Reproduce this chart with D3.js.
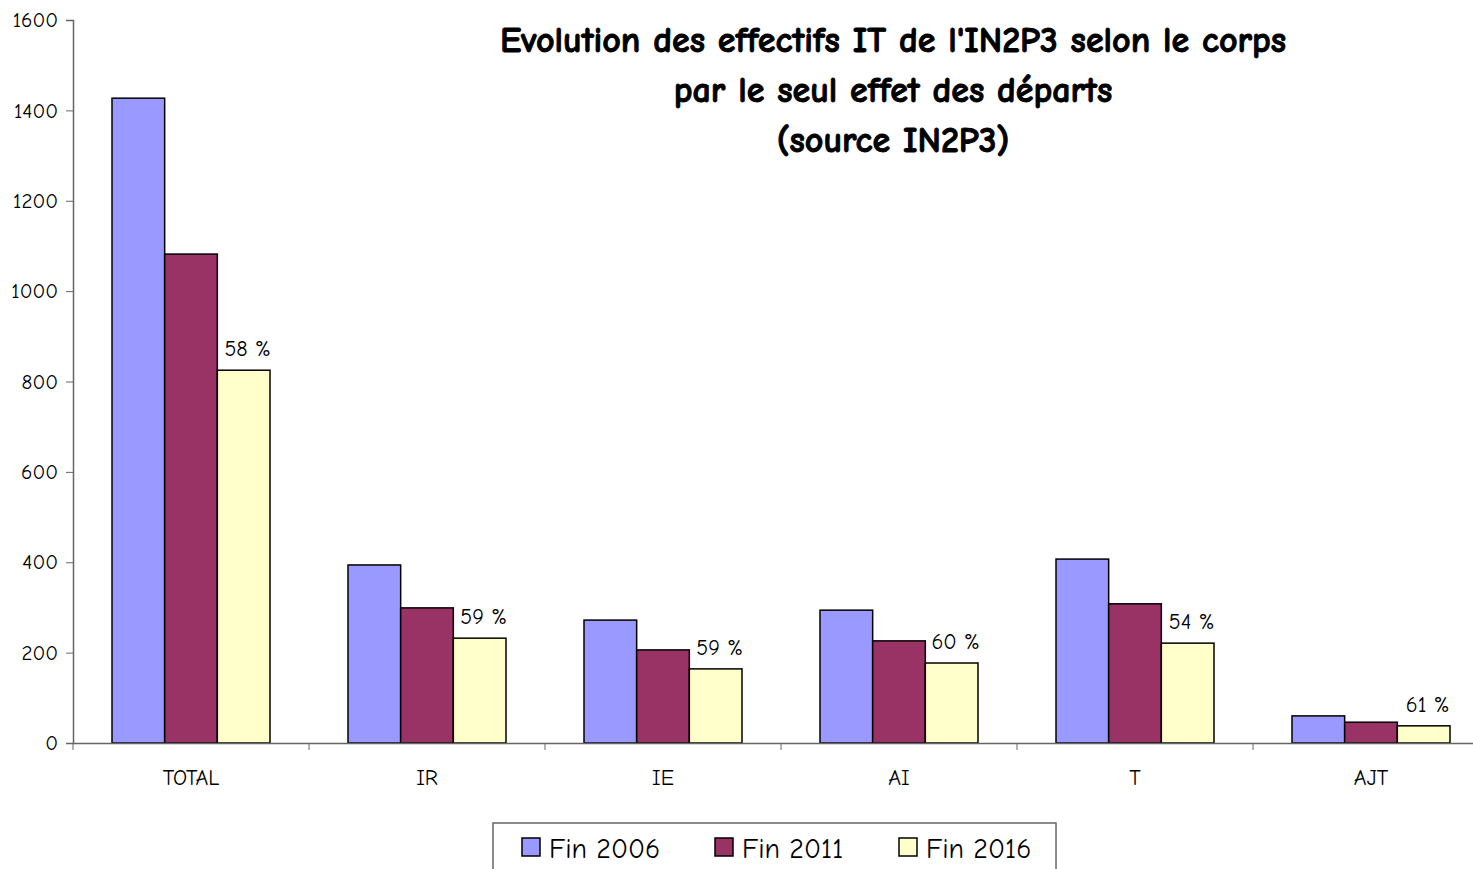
<!DOCTYPE html>
<html>
<head>
<meta charset="utf-8">
<script src="https://cdn.jsdelivr.net/npm/d3@7"></script>
<style>
  body { margin: 0; background: #fff; }
  svg text { font-family: "Comic Sans MS", "Comic Neue", "DejaVu Sans", sans-serif; fill: #000; }
</style>
</head>
<body>
<div id="chart"></div>
<script>
const categories = ['TOTAL', 'IR', 'IE', 'AI', 'T', 'AJT']
const seriesNames = ['Fin 2006', 'Fin 2011', 'Fin 2016']
const fin2006 = [1427, 394, 272, 294, 407, 60]
const fin2011 = [1082, 299, 206, 226, 308, 46]
const fin2016 = [825, 232, 164, 177, 221, 38]
const pctLabels = ['58 %', '59 %', '59 %', '60 %', '54 %', '61 %']
const yTicks = [0, 200, 400, 600, 800, 1000, 1200, 1400, 1600]
const colors = ['#9999ff', '#993366', '#ffffcc']

const W = 1473, H = 869
const svg = d3.select('#chart').append('svg')
  .attr('width', W).attr('height', H)

// plot area runs past the right edge, like the original
const x = d3.scaleBand().domain(categories).range([73, 73 + 6 * 236])
const inner = d3.scaleBand().domain(seriesNames).range([39, 236 - 39])
const y = d3.scaleLinear().domain([0, 1600]).range([743, 20])

const series = [fin2006, fin2011, fin2016]

// bars
series.forEach((vals, si) => {
  svg.append('g').selectAll('rect')
    .data(vals)
    .join('rect')
      .attr('x', (d, i) => x(categories[i]) + inner(seriesNames[si]))
      .attr('y', d => y(d))
      .attr('width', inner.bandwidth())
      .attr('height', d => y(0) - y(d))
      .attr('fill', colors[si])
      .attr('stroke', '#000')
      .attr('stroke-width', 1.5)
})

// % labels above Fin 2016 bars
svg.append('g').selectAll('text')
  .data(fin2016)
  .join('text')
    .attr('x', (d, i) => x(categories[i]) + inner('Fin 2016') + inner.bandwidth() / 2 + 4)
    .attr('y', d => y(d) - 14)
    .attr('text-anchor', 'middle')
    .style('font-size', '22px')
    .text((d, i) => pctLabels[i])

// y axis
const yAxis = svg.append('g')
  .attr('transform', 'translate(73,0)')
  .call(d3.axisLeft(y).tickValues(yTicks).tickSize(7).tickPadding(8).tickFormat(d3.format('d')))
yAxis.select('.domain').attr('stroke', '#666').attr('stroke-width', 1.5)
yAxis.selectAll('line').attr('stroke', '#666')
yAxis.selectAll('text').style('font-size', '21px')

// x axis
const xAxis = svg.append('g')
  .attr('transform', `translate(0,${y(0)})`)
  .call(d3.axisBottom(x).tickSize(0).tickPadding(26))
xAxis.select('.domain').attr('stroke', '#666').attr('stroke-width', 1.5)
xAxis.selectAll('text').style('font-size', '22px')
// category separators
xAxis.selectAll('.sep')
  .data(categories)
  .join('line')
    .attr('class', 'sep')
    .attr('x1', d => x(d)).attr('x2', d => x(d))
    .attr('y1', 0).attr('y2', 7)
    .attr('stroke', '#666')

// title
const title = ['Evolution des effectifs IT de l\'IN2P3 selon le corps',
  'par le seul effet des départs', '(source IN2P3)']
svg.append('g').selectAll('text')
  .data(title)
  .join('text')
    .attr('x', 893)
    .attr('y', (d, i) => 52 + i * 50)
    .attr('text-anchor', 'middle')
    .style('font-size', '36px')
    .style('font-weight', 'bold')
    .style('stroke', '#000')
    .style('stroke-width', '0.9px')
    .text(d => d)

// legend
const legend = svg.append('g')
legend.append('rect')
  .attr('x', 493).attr('y', 823)
  .attr('width', 563).attr('height', 60)
  .attr('fill', '#fff').attr('stroke', '#666').attr('stroke-width', 1.5)
const legendX = [522, 715, 899]
seriesNames.forEach((name, i) => {
  legend.append('rect')
    .attr('x', legendX[i]).attr('y', 838)
    .attr('width', 18).attr('height', 18)
    .attr('fill', colors[i]).attr('stroke', '#000').attr('stroke-width', 1.5)
  legend.append('text')
    .attr('x', legendX[i] + 27).attr('y', 858)
    .style('font-size', '28px')
    .text(name)
})
</script>
</body>
</html>
